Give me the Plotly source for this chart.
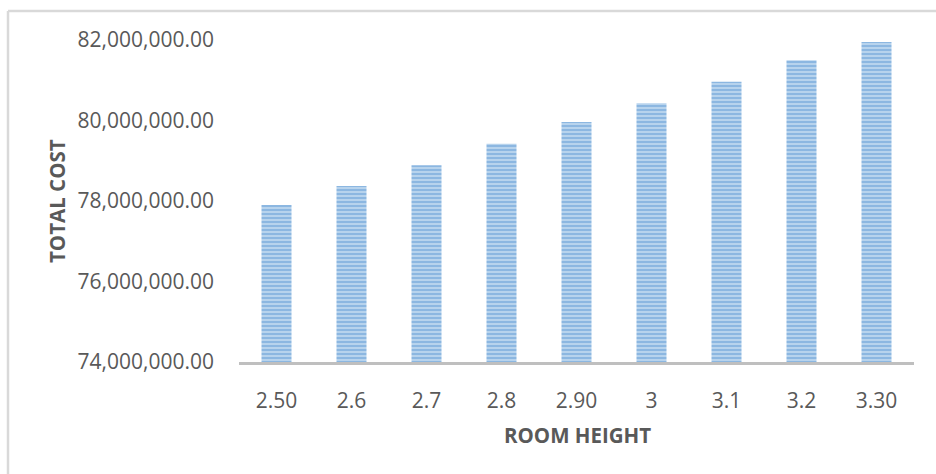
import plotly.graph_objects as go

# Room height categories and resulting total cost
room_heights = ["2.50", "2.6", "2.7", "2.8", "2.90", "3", "3.1", "3.2", "3.30"]
total_cost = [77900000, 78370000, 78890000, 79420000, 79960000,
              80430000, 80960000, 81500000, 81950000]

y_ticks = [74000000, 76000000, 78000000, 80000000, 82000000]
y_tick_text = [f"{v:,.2f}" for v in y_ticks]
BASE = y_ticks[0]

W, H = 936, 474
ML, MR, MT, MB = 239, 22, 40, 112
PW, PH = W - ML - MR, H - MT - MB

FONT = "Open Sans"
GREY = "#595959"

fig = go.Figure(
    go.Bar(
        x=room_heights,
        y=[v - BASE for v in total_cost],
        base=BASE,
        customdata=total_cost,
        hovertemplate="%{x}: %{customdata:,.2f}<extra></extra>",
        marker=dict(
            color="#9DC1E8",
            line=dict(width=0),
            pattern=dict(shape="-", fgcolor="#5694D2", bgcolor="#C2DAF1",
                         size=4, solidity=0.6),
        ),
    )
)


def px_to_paper_x(px):
    return (px - ML) / PW


def px_to_paper_y(py):
    return (H - MB - py) / PH


fig.update_layout(
    width=W,
    height=H,
    margin=dict(l=ML, r=MR, t=MT, b=MB, pad=0),
    paper_bgcolor="white",
    plot_bgcolor="white",
    bargap=0.6,
    showlegend=False,
    font=dict(family=FONT, color=GREY, size=21),
    xaxis=dict(
        type="category",
        showgrid=False,
        showline=True,
        linecolor="#BFBFBF",
        linewidth=3,
        ticks="",
        ticklabelstandoff=18,
        tickfont=dict(size=21, color=GREY),
        zeroline=False,
    ),
    yaxis=dict(
        range=[y_ticks[0], y_ticks[-1]],
        tickvals=y_ticks,
        ticktext=y_tick_text,
        showgrid=False,
        showline=False,
        zeroline=False,
        ticks="",
        ticklabelstandoff=24,
        tickfont=dict(size=21, color=GREY),
    ),
    annotations=[
        dict(text="<b>TOTAL COST</b>", textangle=-90, xref="paper", yref="paper",
             x=px_to_paper_x(57), y=px_to_paper_y(201),
             xanchor="center", yanchor="middle", showarrow=False,
             font=dict(size=20.5, color=GREY, family=FONT)),
        dict(text="<b>ROOM HEIGHT</b>", xref="paper", yref="paper",
             x=px_to_paper_x(577), y=px_to_paper_y(435),
             xanchor="center", yanchor="middle", showarrow=False,
             font=dict(size=20.5, color=GREY, family=FONT)),
    ],
    shapes=[
        # chart frame (left and top edges)
        dict(type="line", xref="paper", yref="paper",
             x0=px_to_paper_x(8), x1=px_to_paper_x(8),
             y0=px_to_paper_y(11), y1=px_to_paper_y(H + 5),
             line=dict(color="#D9D9D9", width=2.5)),
        dict(type="line", xref="paper", yref="paper",
             x0=px_to_paper_x(8), x1=px_to_paper_x(W + 5),
             y0=px_to_paper_y(11), y1=px_to_paper_y(11),
             line=dict(color="#D9D9D9", width=2.5)),
    ],
)

fig.write_html("out.html")
